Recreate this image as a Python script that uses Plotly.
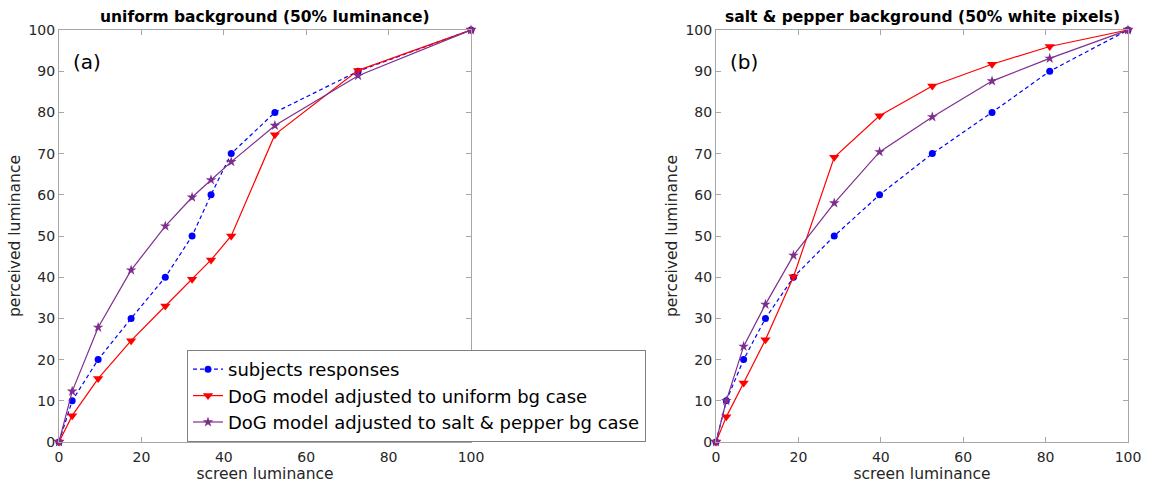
import plotly.graph_objects as go

# ---- data ----
a_subj_x = [0, 3.2, 9.5, 17.5, 25.8, 32.3, 36.9, 41.8, 52.4, 72.6, 100]
a_subj_y = [0, 10, 20, 30, 40, 50, 60, 70, 80, 90, 100]
a_unif_y = [0, 6.4, 15.4, 24.6, 33.0, 39.5, 44.2, 50.0, 74.6, 90.2, 100]
a_sp_y = [0, 12.3, 27.8, 41.7, 52.4, 59.4, 63.6, 68.0, 76.8, 88.9, 100]

b_subj_x = [0, 2.5, 6.7, 12.0, 18.8, 28.7, 39.7, 52.5, 67.0, 81.0, 100]
b_subj_y = [0, 10, 20, 30, 40, 50, 60, 70, 80, 90, 100]
b_unif_y = [0, 6.1, 14.3, 24.8, 40.1, 69.1, 79.2, 86.4, 91.7, 96.0, 100]
b_sp_y = [0, 10.0, 23.2, 33.4, 45.3, 58.0, 70.4, 78.9, 87.6, 93.1, 100]

series_names = ["subjects responses",
                "DoG model adjusted to uniform bg case",
                "DoG model adjusted to salt & pepper bg case"]
panel_titles = ["uniform background (50% luminance)",
                "salt & pepper background (50% white pixels)"]
panel_labels = ["(a)", "(b)"]
tick_vals = [0, 20, 40, 60, 80, 100]
ytick_vals = [0, 10, 20, 30, 40, 50, 60, 70, 80, 90, 100]

BLUE = "#0000ff"
RED = "#ff0000"
PURPLE = "#7e2f8e"
FONT = "DejaVu Sans"
TXT = "#262626"
AX = "#a6a6a6"

W, H = 1155, 485
fig = go.Figure()

panels = [
    (a_subj_x, a_subj_y, a_unif_y, a_sp_y, "x", "y", True),
    (b_subj_x, b_subj_y, b_unif_y, b_sp_y, "x2", "y2", False),
]
for sx, sy, uy, py, xa, ya, show in panels:
    fig.add_trace(go.Scatter(
        x=sx, y=sy, mode="lines+markers", name=series_names[0],
        line=dict(color=BLUE, width=1.2, dash="4px,3px"),
        marker=dict(symbol="circle", size=7, color=BLUE),
        xaxis=xa, yaxis=ya, showlegend=show, cliponaxis=False))
    fig.add_trace(go.Scatter(
        x=sx, y=uy, mode="lines+markers", name=series_names[1],
        line=dict(color=RED, width=1.2),
        marker=dict(symbol="triangle-down", size=9, color=RED),
        xaxis=xa, yaxis=ya, showlegend=show, cliponaxis=False))
    fig.add_trace(go.Scatter(
        x=sx, y=py, mode="lines+markers", name=series_names[2],
        line=dict(color=PURPLE, width=1.2),
        marker=dict(symbol="star", size=8, color=PURPLE),
        xaxis=xa, yaxis=ya, showlegend=show, cliponaxis=False))

y0 = (H - 442) / H
y1 = (H - 30) / H
xd1 = [59 / W, 471 / W]
xd2 = [716 / W, 1128 / W]

axis_common = dict(
    range=[0, 100], showgrid=False, zeroline=False,
    showline=True, linecolor=AX, linewidth=1, mirror="ticks",
    ticks="inside", ticklen=5, tickcolor=AX,
    tickfont=dict(family=FONT, size=14, color=TXT),
    automargin=False,
)
xtitle_font = dict(family=FONT, size=15.5, color=TXT)

fig.update_layout(
    width=W, height=H,
    margin=dict(l=0, r=0, t=0, b=0),
    paper_bgcolor="white", plot_bgcolor="white",
    font=dict(family=FONT, color=TXT),
    xaxis=dict(domain=xd1, anchor="y", tickvals=tick_vals, ticklabelstandoff=2,
               title=dict(text="screen luminance", font=xtitle_font, standoff=2),
               **axis_common),
    yaxis=dict(domain=[y0, y1], anchor="x", tickvals=ytick_vals,
               title=dict(text="perceived luminance", font=xtitle_font, standoff=4),
               **axis_common),
    xaxis2=dict(domain=xd2, anchor="y2", tickvals=tick_vals, ticklabelstandoff=2,
                title=dict(text="screen luminance", font=xtitle_font, standoff=2),
                **axis_common),
    yaxis2=dict(domain=[y0, y1], anchor="x2", tickvals=ytick_vals,
                title=dict(text="perceived luminance", font=xtitle_font, standoff=4),
                **axis_common),
    legend=dict(
        x=187 / W, y=1 - 350 / H, xanchor="left", yanchor="top",
        bgcolor="white", bordercolor="#808080", borderwidth=1,
        font=dict(family=FONT, size=18, color="#000000"),
        itemwidth=30, tracegroupgap=0,
    ),
)

for i, (xd, title, lab) in enumerate(zip([xd1, xd2], panel_titles, panel_labels)):
    fig.add_annotation(
        x=(xd[0] + xd[1]) / 2, y=1 - 17 / H, xref="paper", yref="paper",
        text="<b>" + title + "</b>", showarrow=False,
        font=dict(family=FONT, size=15.5, color="#000000"),
        xanchor="center", yanchor="middle")
    fig.add_annotation(
        x=xd[0] + 12 / W, y=1 - 62 / H, xref="paper", yref="paper",
        text=lab, showarrow=False,
        font=dict(family=FONT, size=20, color="#000000"),
        xanchor="left", yanchor="middle")

fig.write_html("out.html")
